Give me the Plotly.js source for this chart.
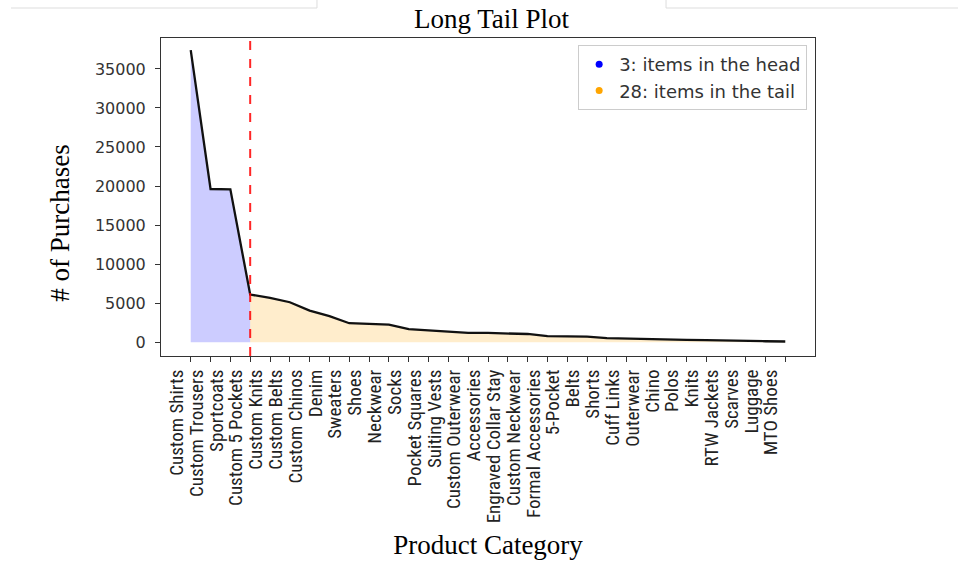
<!DOCTYPE html>
<html>
<head>
<meta charset="utf-8">
<script src="https://cdn.plot.ly/plotly-3.0.1.min.js"></script>
<style>html,body{margin:0;padding:0;background:#fff;}#chart{width:958px;height:563px;}</style>
</head>
<body>
<div id="chart"></div>
<script>
const categories = ["Custom Shirts","Custom Trousers","Sportcoats","Custom 5 Pockets","Custom Knits","Custom Belts","Custom Chinos","Denim","Sweaters","Shoes","Neckwear","Socks","Pocket Squares","Suiting Vests","Custom Outerwear","Accessories","Engraved Collar Stay","Custom Neckwear","Formal Accessories","5-Pocket","Belts","Shorts","Cuff Links","Outerwear","Chino","Polos","Knits","RTW Jackets","Scarves","Luggage","MTO Shoes"];
const purchases = [37400,19620,19580,6100,5680,5115,4050,3330,2430,2350,2260,1660,1500,1370,1200,1180,1110,1050,770,730,700,510,435,400,300,290,255,180,140,120,90];
const yTicks = [0,5000,10000,15000,20000,25000,30000,35000];
const headCount = 3;
const tailCount = categories.length - headCount;

const idx = categories.map((_, i) => i);
const headX = idx.slice(0, headCount + 1);
const headY = purchases.slice(0, headCount + 1);
const tailX = idx.slice(headCount);
const tailY = purchases.slice(headCount);

const traces = [
  {x: headX, y: headY, type: 'scatter', mode: 'lines', fill: 'tozeroy',
   fillcolor: 'rgba(0,0,255,0.2)', line: {width: 0}, showlegend: false, hoverinfo: 'skip'},
  {x: tailX, y: tailY, type: 'scatter', mode: 'lines', fill: 'tozeroy',
   fillcolor: 'rgba(255,165,0,0.2)', line: {width: 0}, showlegend: false, hoverinfo: 'skip'},
  {x: idx, y: purchases, type: 'scatter', mode: 'lines',
   line: {color: '#111', width: 2.3}, showlegend: false},
  {x: [null], y: [null], type: 'scatter', mode: 'markers', name: headCount + ': items in the head',
   marker: {color: 'blue', size: 7}},
  {x: [null], y: [null], type: 'scatter', mode: 'markers', name: tailCount + ': items in the tail',
   marker: {color: 'orange', size: 7}}
];

const serif = 'Liberation Serif, Times New Roman, serif';
const layout = {
  width: 958, height: 563,
  margin: {l: 161, r: 143, t: 38, b: 207},
  paper_bgcolor: '#fff', plot_bgcolor: '#fff',
  showlegend: true,
  title: {text: 'Long Tail Plot', font: {family: serif, size: 27, color: '#000'},
          x: 0.513, xanchor: 'center', y: 0.967, yanchor: 'middle', yref: 'container'},
  xaxis: {
    range: [-1.5, 31.5], tickmode: 'array', tickvals: idx, ticktext: categories,
    tickangle: -90, ticks: 'outside', ticklen: 5, tickcolor: '#333', ticklabelshift: -14,
    tickfont: {family: 'Liberation Sans Narrow, Roboto Condensed, Arial Narrow, sans-serif', size: 19, color: '#222'},
    showgrid: false, zeroline: false, showline: true, linecolor: '#333', linewidth: 1, mirror: true,
    automargin: false,
    title: {text: 'Product Category', font: {family: serif, size: 27, color: '#000'}, standoff: 12}
  },
  yaxis: {
    range: [-1770, 38960], tickvals: yTicks, ticktext: yTicks.map(String),
    ticks: 'outside', ticklen: 5, tickcolor: '#333', ticklabelstandoff: 6,
    tickfont: {family: 'DejaVu Sans, sans-serif', size: 16, color: '#333'},
    showgrid: false, zeroline: false, showline: true, linecolor: '#333', linewidth: 1, mirror: true,
    automargin: false
  },
  legend: {x: 0.988, xanchor: 'right', y: 0.978, yanchor: 'top',
           bgcolor: '#fff', bordercolor: '#ccc', borderwidth: 1,
           font: {family: 'DejaVu Sans, sans-serif', size: 18, color: '#333'}},
  annotations: [
    {text: '# of Purchases', textangle: -90, xref: 'paper', yref: 'paper',
     x: -0.155, y: 0.418, xanchor: 'center', yanchor: 'middle', showarrow: false,
     font: {family: serif, size: 27, color: '#000'}}
  ],
  shapes: [
    {type: 'line', xref: 'x', yref: 'paper', x0: headCount, x1: headCount, y0: 0, y1: 1,
     line: {color: 'rgba(255,0,0,0.85)', width: 2, dash: 'dash'}, layer: 'above'},
    {type: 'line', xref: 'paper', yref: 'paper', x0: -0.2294, x1: 0.2385, y0: 1.0943, y1: 1.0943,
     line: {color: '#ddd', width: 1}},
    {type: 'line', xref: 'paper', yref: 'paper', x0: 0.2385, x1: 0.2385, y0: 1.0943, y1: 1.13,
     line: {color: '#ddd', width: 1}},
    {type: 'line', xref: 'paper', yref: 'paper', x0: 0.7722, x1: 1.2187, y0: 1.0943, y1: 1.0943,
     line: {color: '#ddd', width: 1}},
    {type: 'line', xref: 'paper', yref: 'paper', x0: 0.7722, x1: 0.7722, y0: 1.0943, y1: 1.13,
     line: {color: '#ddd', width: 1}}
  ]
};

Plotly.newPlot('chart', traces, layout, {displayModeBar: false, staticPlot: true});
</script>
</body>
</html>
